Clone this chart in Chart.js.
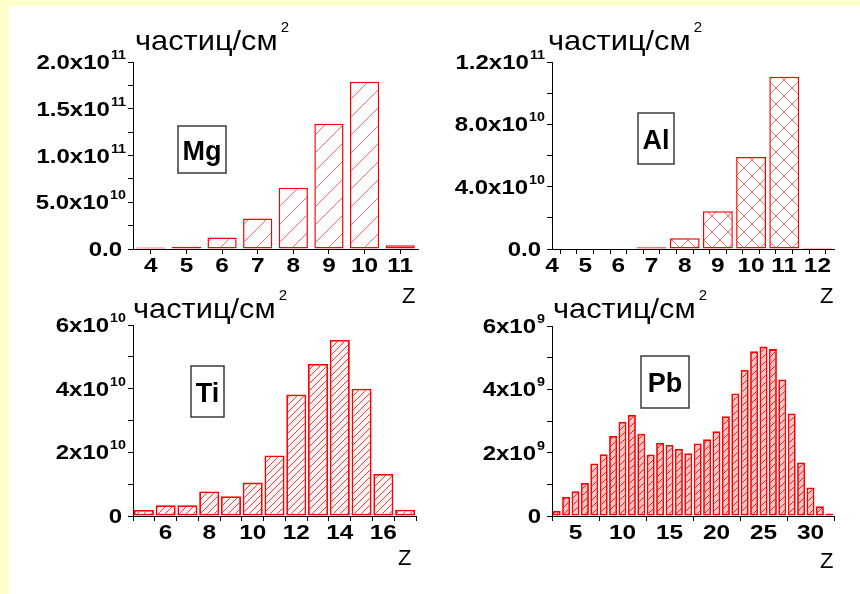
<!DOCTYPE html>
<html><head><meta charset="utf-8">
<script src="https://cdn.jsdelivr.net/npm/chart.js@4"></script>
<style>
html,body{margin:0;padding:0;background:#ffffcc;width:860px;height:594px;overflow:hidden}
#sheet{position:absolute;left:9px;top:6px;right:0;bottom:0;background:#fff}
canvas{position:absolute;left:0;top:0}
</style></head><body><div id="sheet"></div>
<canvas id="c1" width="860" height="594"></canvas>
<canvas id="c2" width="860" height="594"></canvas>
<canvas id="c3" width="860" height="594"></canvas>
<canvas id="c4" width="860" height="594"></canvas>
<script>
// ---------- DATA ----------
const unitLabel = 'частиц/см';
const unitSup = '2';
const axisName = 'Z';

const mgName = 'Mg';
const mgZ = [4, 5, 6, 7, 8, 9, 10, 11];
const mgFlux = [0.15e10, 0.25e10, 1.24e10, 3.27e10, 6.56e10, 13.4e10, 17.9e10, 0.39e10];
const mgYTicks = [0, 5e10, 1e11, 1.5e11, 2e11];
const mgYLabels = ['0.0', '5.0x10^10', '1.0x10^11', '1.5x10^11', '2.0x10^11'];
const mgXTicks = [4, 5, 6, 7, 8, 9, 10, 11];

const alName = 'Al';
const alZ = [7, 8, 9, 10, 11, 12];
const alFlux = [0.12e10, 0.69e10, 2.42e10, 5.9e10, 11.06e10, 0.08e10];
const alYTicks = [0, 4e10, 8e10, 1.2e11];
const alYLabels = ['0.0', '4.0x10^10', '8.0x10^10', '1.2x10^11'];
const alXTicks = [4, 5, 6, 7, 8, 9, 10, 11, 12];

const tiName = 'Ti';
const tiZ = [5, 6, 7, 8, 9, 10, 11, 12, 13, 14, 15, 16, 17];
const tiFlux = [0.19e10, 0.34e10, 0.34e10, 0.77e10, 0.62e10, 1.05e10, 1.9e10, 3.82e10, 4.78e10, 5.53e10, 4.0e10, 1.32e10, 0.2e10];
const tiYTicks = [0, 2e10, 4e10, 6e10];
const tiYLabels = ['0', '2x10^10', '4x10^10', '6x10^10'];
const tiXTicks = [6, 8, 10, 12, 14, 16];

const pbName = 'Pb';
const pbZ = [3, 4, 5, 6, 7, 8, 9, 10, 11, 12, 13, 14, 15, 16, 17, 18, 19, 20, 21, 22, 23, 24, 25, 26, 27, 28, 29, 30, 31, 32];
const pbFlux = [0.16e9, 0.6e9, 0.78e9, 1.04e9, 1.66e9, 1.95e9, 2.53e9, 2.97e9, 3.19e9, 2.6e9, 1.94e9, 2.31e9, 2.24e9, 2.12e9, 1.98e9, 2.29e9, 2.42e9, 2.68e9, 3.15e9, 3.87e9, 4.61e9, 5.2e9, 5.35e9, 5.27e9, 4.31e9, 3.24e9, 1.69e9, 0.9e9, 0.31e9, 0.08e9];
const pbYTicks = [0, 2e9, 4e9, 6e9];
const pbYLabels = ['0', '2x10^9', '4x10^9', '6x10^9'];
const pbXTicks = [5, 10, 15, 20, 25, 30];

// ---------- STYLE / LAYOUT ----------
const FONT = '"Liberation Sans", Arial, Helvetica, sans-serif';
const W = 860, H = 594, TL = 5;

function makePattern(ctx, p, color, lw, bg, cross) {
  const c = document.createElement('canvas');
  c.width = p; c.height = p;
  const g = c.getContext('2d');
  if (bg) { g.fillStyle = bg; g.fillRect(0, 0, p, p); }
  g.strokeStyle = color; g.lineWidth = lw;
  g.beginPath();
  g.moveTo(-1, p + 1); g.lineTo(p + 1, -1);
  g.moveTo(-1, 1); g.lineTo(1, -1);
  g.moveTo(p - 1, p + 1); g.lineTo(p + 1, p - 1);
  if (cross) {
    g.moveTo(-1, -1); g.lineTo(p + 1, p + 1);
    g.moveTo(p - 1, -1); g.lineTo(p + 1, 1);
    g.moveTo(-1, p - 1); g.lineTo(1, p + 1);
  }
  g.stroke();
  return ctx.createPattern(c, 'repeat');
}

function drawStretch(ctx, txt, x, y, font, sx, align) {
  ctx.font = font;
  const w = ctx.measureText(txt).width * sx;
  const x0 = align === 'right' ? x - w : (align === 'center' ? x - w / 2 : x);
  ctx.save();
  ctx.translate(x0, y); ctx.scale(sx, 1);
  ctx.textAlign = 'left'; ctx.textBaseline = 'alphabetic';
  ctx.fillText(txt, 0, 0);
  ctx.restore();
  return w;
}
function measureStretch(ctx, txt, font, sx) { ctx.font = font; return ctx.measureText(txt).width * sx; }

const decoPlugin = {
  id: 'deco',
  afterDraw(chart) {
    const d = chart.options.plugins.deco;
    const ctx = chart.ctx;
    const xs = chart.scales.x, ys = chart.scales.y;
    ctx.save();
    ctx.fillStyle = '#000';
    // y tick labels with exponents
    const mainF = 'bold 20px ' + FONT, supF = 'bold 13px ' + FONT;
    const xr = xs.left - 7;
    d.yTicks.forEach((v, i) => {
      const py = ys.getPixelForValue(v);
      const parts = d.yLabels[i].split('^');
      const base = py + 7;
      if (parts.length === 2) {
        const ws = measureStretch(ctx, parts[1], supF, 1.1);
        drawStretch(ctx, parts[1], xr, base - 10, supF, 1.1, 'right');
        drawStretch(ctx, parts[0], xr - ws - 1, base, mainF, 1.2, 'right');
      } else {
        drawStretch(ctx, parts[0], xr - 4, base, mainF, 1.2, 'right');
      }
    });
    // x tick labels
    d.xTicks.forEach(v => {
      const px = xs.getPixelForValue(v);
      drawStretch(ctx, String(v), px, ys.bottom + 23, 'bold 20px ' + FONT, 1.22, 'center');
    });
    // unit label
    const uw = drawStretch(ctx, unitLabel, d.unit[0], d.unit[1], '28px ' + FONT, 1.1, 'left');
    drawStretch(ctx, unitSup, d.unit[0] + uw + 3, d.unit[1] - 18, '15px ' + FONT, 1.0, 'left');
    // axis name
    drawStretch(ctx, axisName, d.z[0], d.z[1], '22px ' + FONT, 1.0, 'left');
    // element box
    const b = d.box;
    ctx.fillStyle = '#fff';
    ctx.fillRect(b[0], b[1], b[2], b[3]);
    ctx.strokeStyle = '#3a3a3a'; ctx.lineWidth = 1.5;
    ctx.strokeRect(b[0], b[1], b[2], b[3]);
    ctx.fillStyle = '#000';
    drawStretch(ctx, d.name, b[0] + b[2] / 2, b[1] + b[3] / 2 + 10, 'bold 27px ' + FONT, 1.0, 'center');
    ctx.restore();
  }
};

function range(a, b, s) { const r = []; for (let v = a; v <= b + 1e-9; v += s) r.push(+v.toFixed(6)); return r; }

function makeChart(id, L) {
  const canvas = document.getElementById(id);
  const ctx = canvas.getContext('2d');
  const pat = L.pattern(ctx);
  return new Chart(ctx, {
    type: 'bar',
    data: {
      datasets: [{
        data: L.z.map((x, i) => ({ x: x, y: L.flux[i] })),
        backgroundColor: pat,
        borderColor: '#ff0000',
        borderWidth: L.bw,
        borderSkipped: false,
        barPercentage: L.barPct,
        categoryPercentage: 1
      }]
    },
    options: {
      responsive: false,
      animation: false,
      devicePixelRatio: 1,
      layout: { padding: { left: L.area[0] - TL, right: W - L.area[1], top: L.area[2], bottom: H - L.area[3] - TL } },
      plugins: {
        legend: { display: false },
        tooltip: { enabled: false },
        deco: { yTicks: L.yTicks, yLabels: L.yLabels, xTicks: L.xTicks, unit: L.unit, z: L.zpos, box: L.box, name: L.name }
      },
      scales: {
        x: {
          type: 'linear', min: L.xMin, max: L.xMax, offset: false,
          ticks: { display: false },
          afterBuildTicks: s => { s.ticks = L.xMarks.map(v => ({ value: v })); },
          afterFit: s => { s.height = TL; },
          grid: { display: true, drawOnChartArea: false, drawTicks: true, tickLength: TL, color: '#000', lineWidth: 1 },
          border: { display: true, color: '#000', width: 1 }
        },
        y: {
          type: 'linear', min: 0, max: L.yMax,
          ticks: { display: false },
          afterBuildTicks: s => { s.ticks = range(0, L.yMax, L.yMinor).map(v => ({ value: v })); },
          afterFit: s => { s.width = TL; },
          grid: { display: true, drawOnChartArea: false, drawTicks: true, tickLength: TL, color: '#000', lineWidth: 1 },
          border: { display: true, color: '#000', width: 1 }
        }
      }
    },
    plugins: [decoPlugin]
  });
}

makeChart('c1', {
  z: mgZ, flux: mgFlux, yTicks: mgYTicks, yLabels: mgYLabels, xTicks: mgXTicks, name: mgName,
  area: [133, 418, 62, 249], xMin: 3.5, xMax: 11.5, xMarks: range(4.5, 10.5, 1),
  yMax: 2e11, yMinor: 2.5e10, barPct: 0.82, bw: 1.5,
  pattern: c => makePattern(c, 18, '#ff6a6a', 1, '#ffffff', false),
  unit: [135, 50], zpos: [402, 303], box: [178, 126, 48, 47]
});
// Al: half-unit tick marks halve Chart.js's bar slot, so the percentage is doubled to give 0.9 of a unit
makeChart('c2', {
  z: alZ, flux: alFlux, yTicks: alYTicks, yLabels: alYLabels, xTicks: alXTicks, name: alName,
  area: [552, 834, 62, 249], xMin: 4, xMax: 12.5, xMarks: range(4, 12.5, 0.5),
  yMax: 1.2e11, yMinor: 2e10, barPct: 1.8, bw: 1.5,
  pattern: c => makePattern(c, 16, '#ff6a6a', 1, '#ffffff', true),
  unit: [548, 50], zpos: [820, 303], box: [638, 113, 36, 51]
});
makeChart('c3', {
  z: tiZ, flux: tiFlux, yTicks: tiYTicks, yLabels: tiYLabels, xTicks: tiXTicks, name: tiName,
  area: [133, 416, 325, 516], xMin: 4.5, xMax: 17.5, xMarks: range(5, 17, 1),
  yMax: 6e10, yMinor: 1e10, barPct: 0.92, bw: 1.8,
  pattern: c => makePattern(c, 7, '#ff3a3a', 1, '#fff4f4', false),
  unit: [133, 318], zpos: [398, 565], box: [191, 366, 33, 51]
});
makeChart('c4', {
  z: pbZ, flux: pbFlux, yTicks: pbYTicks, yLabels: pbYLabels, xTicks: pbXTicks, name: pbName,
  area: [552, 834, 326, 516], xMin: 2.5, xMax: 32.5, xMarks: range(5, 30, 5),
  yMax: 6e9, yMinor: 1e9, barPct: 0.85, bw: 1.8,
  pattern: c => makePattern(c, 7, '#ff1a1a', 1, '#ffc4c4', false),
  unit: [553, 318], zpos: [820, 568], box: [641, 356, 48, 52]
});
</script>
</body></html>
